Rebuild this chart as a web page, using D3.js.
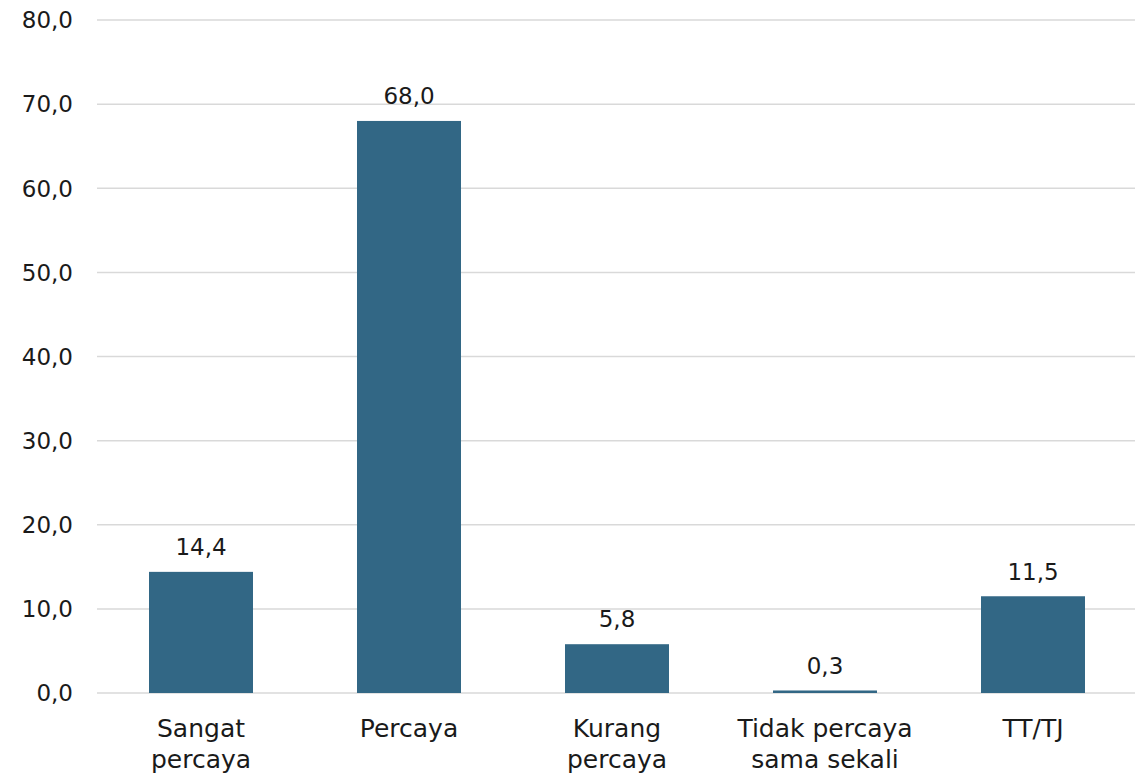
<!DOCTYPE html>
<html>
<head>
  <meta charset="UTF-8">
  <title>Tingkat kepercayaan</title>
  <script src="https://cdnjs.cloudflare.com/ajax/libs/d3/7.8.5/d3.min.js"></script>
  <style>
    body { margin: 0; background: #fff; }
    svg text { font-family: "Century Gothic", "DejaVu Sans", sans-serif; fill: #1a1a1a; }
  </style>
</head>
<body>
<script>
  var categories = [["Sangat", "percaya"], ["Percaya"], ["Kurang", "percaya"], ["Tidak percaya", "sama sekali"], ["TT/TJ"]];
  var values = [14.4, 68.0, 5.8, 0.3, 11.5];
  var yTicks = [0, 10, 20, 30, 40, 50, 60, 70, 80];

  var width = 1135, height = 774;
  var plotLeft = 97, plotRight = 1137, plotTop = 20, plotBottom = 693;
  var fmt = function(v) { return d3.format(".1f")(v).replace(".", ","); };

  var svg = d3.select("body").append("svg")
    .attr("width", width)
    .attr("height", height);

  var x = d3.scaleBand()
    .domain(d3.range(values.length))
    .range([plotLeft, plotRight])
    .paddingInner(0.5)
    .paddingOuter(0.25);

  var y = d3.scaleLinear().domain([0, 80]).range([plotBottom, plotTop]);

  // gridlines
  svg.append("g").selectAll("line")
    .data(yTicks)
    .enter().append("line")
    .attr("x1", plotLeft).attr("x2", width)
    .attr("y1", function(d) { return y(d); })
    .attr("y2", function(d) { return y(d); })
    .attr("stroke", "#d9d9d9")
    .attr("stroke-width", 1.5);

  // y labels
  svg.append("g").selectAll("text")
    .data(yTicks)
    .enter().append("text")
    .attr("x", 73)
    .attr("y", function(d) { return y(d); })
    .attr("dy", "0.36em")
    .attr("text-anchor", "end")
    .style("font-size", "23px")
    .text(fmt);

  // bars
  svg.append("g").selectAll("rect")
    .data(values)
    .enter().append("rect")
    .attr("x", function(d, i) { return x(i); })
    .attr("width", x.bandwidth())
    .attr("y", function(d) { return y(d); })
    .attr("height", function(d) { return y(0) - y(d); })
    .attr("fill", "#326785");

  // value labels
  svg.append("g").selectAll("text")
    .data(values)
    .enter().append("text")
    .attr("x", function(d, i) { return x(i) + x.bandwidth() / 2; })
    .attr("y", function(d) { return y(d) - 25; })
    .attr("dy", "0.36em")
    .attr("text-anchor", "middle")
    .style("font-size", "23px")
    .text(fmt);

  // category labels
  var cat = svg.append("g").selectAll("text")
    .data(categories)
    .enter().append("text")
    .attr("text-anchor", "middle")
    .style("font-size", "25px");

  cat.selectAll("tspan")
    .data(function(d, i) { return d.map(function(s) { return { s: s, i: i }; }); })
    .enter().append("tspan")
    .attr("x", function(d) { return x(d.i) + x.bandwidth() / 2; })
    .attr("y", function(d, j) { return 737 + j * 31; })
    .text(function(d) { return d.s; });
</script>
</body>
</html>
